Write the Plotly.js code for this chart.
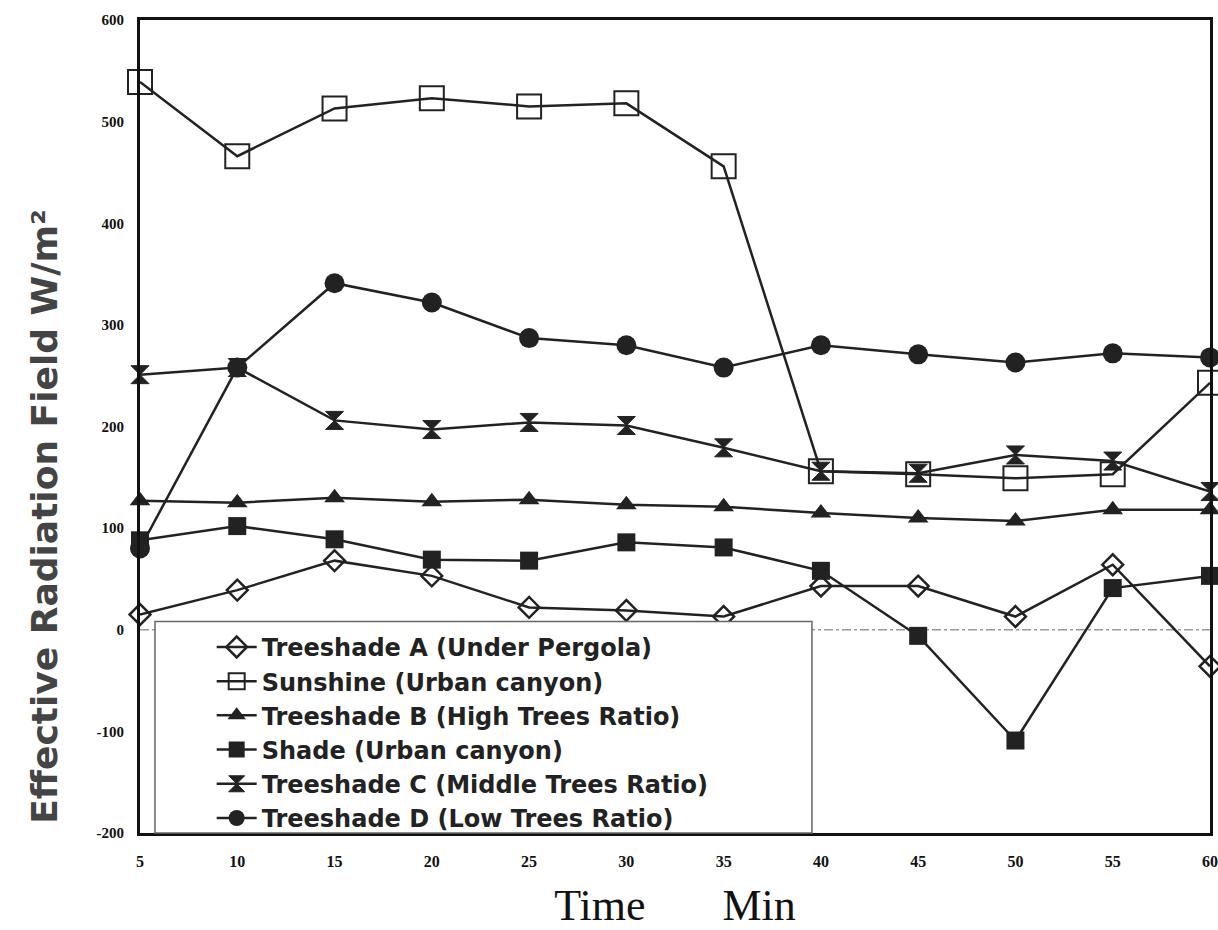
<!DOCTYPE html>
<html>
<head>
<meta charset="utf-8">
<script src="https://cdn.plot.ly/plotly-3.0.1.min.js"></script>
<style>html,body{margin:0;padding:0;background:#fff;}#chart{width:1218px;height:930px;}</style>
</head>
<body>
<div id="chart"></div>
<script>
const minutes = [5, 10, 15, 20, 25, 30, 35, 40, 45, 50, 55, 60];
const treeshadeA = [15, 39, 68, 53, 22, 19, 13, 43, 43, 13, 64, -36];
const sunshine = [539, 466, 513, 523, 515, 518, 456, 156, 153, 149, 153, 243];
const treeshadeB = [127, 125, 130, 126, 128, 123, 121, 115, 110, 107, 118, 118];
const shade = [88, 102, 89, 69, 68, 86, 81, 58, -6, -109, 41, 53];
const treeshadeC = [251, 258, 206, 197, 204, 201, 179, 156, 154, 172, 166, 136];
const treeshadeD = [80, 258, 341, 322, 287, 280, 258, 280, 271, 263, 272, 268];
const seriesNames = [
  "Treeshade A (Under Pergola)",
  "Sunshine (Urban canyon)",
  "Treeshade B (High Trees Ratio)",
  "Shade (Urban canyon)",
  "Treeshade C (Middle Trees Ratio)",
  "Treeshade D (Low Trees Ratio)"
];
const yTicks = [-200, -100, 0, 100, 200, 300, 400, 500, 600];
const xTicks = minutes;

const lineStyle = {color: '#222', width: 2.5};
function mk(y, name, marker) {
  return {x: minutes, y: y, name: name, type: 'scatter', mode: 'lines+markers',
          line: lineStyle, marker: marker, cliponaxis: false};
}
const traces = [
  mk(treeshadeA, seriesNames[0], {symbol: 'diamond-open', size: 16, color: '#222', line: {width: 2.5, color: '#222'}}),
  mk(sunshine, seriesNames[1], {symbol: 'square-open', size: 24, color: '#222', line: {width: 2, color: '#222'}}),
  mk(treeshadeB, seriesNames[2], {symbol: 'triangle-up', size: 18, color: '#222'}),
  mk(shade, seriesNames[3], {symbol: 'square', size: 18, color: '#222'}),
  mk(treeshadeC, seriesNames[4], {symbol: 'hourglass', size: 18, color: '#222', line: {width: 1, color: '#222'}}),
  mk(treeshadeD, seriesNames[5], {symbol: 'circle', size: 20, color: '#222'})
];

const layout = {
  width: 1218, height: 930,
  margin: {l: 140, r: 8, t: 20, b: 97},
  paper_bgcolor: '#fff', plot_bgcolor: '#fff',
  showlegend: true,
  legend: {
    x: 0.067, y: 0.256, xanchor: 'left', yanchor: 'top',
    bgcolor: 'rgba(255,255,255,0)', borderwidth: 0,
    font: {family: 'DejaVu Sans', size: 24, color: '#222', weight: 'bold'},
    itemwidth: 40, tracegroupgap: 0,
    traceorder: 'normal'
  },
  xaxis: {
    range: [5, 60], tickvals: xTicks, ticktext: xTicks.map(String),
    showgrid: false, zeroline: false, showline: true, mirror: true,
    linecolor: '#111', linewidth: 3, ticks: '', ticklabelstandoff: 12,
    tickfont: {family: 'Liberation Serif', size: 16, color: '#111', weight: 'bold'},
    title: {text: 'Time\u00A0\u00A0\u00A0\u00A0\u00A0\u00A0\u00A0Min', font: {family: 'Liberation Serif', size: 44, color: '#111'}, standoff: 28}
  },
  yaxis: {
    range: [-200, 600], tickvals: yTicks, ticktext: yTicks.map(String),
    showgrid: false, zeroline: false, showline: true, mirror: true,
    linecolor: '#111', linewidth: 3, ticks: '', ticklabelstandoff: 10,
    tickfont: {family: 'Liberation Serif', size: 15, color: '#111', weight: 'bold'}
  },
  annotations: [{
    text: 'Effective Radiation Field W/m\u00B2', xref: 'paper', yref: 'paper',
    x: -0.0888, y: 0.389, xanchor: 'center', yanchor: 'middle', textangle: -90,
    showarrow: false, font: {family: 'DejaVu Sans', size: 36, color: '#444', weight: 'bold'}
  }],
  shapes: [
    {type: 'line', xref: 'x', yref: 'y', x0: 5, x1: 60, y0: 0, y1: 0,
     line: {color: '#999', width: 1.5, dash: 'dashdot'}, layer: 'below'},
    {type: 'rect', xref: 'paper', yref: 'paper', x0: 0.014, x1: 0.628, y0: 0, y1: 0.26,
     fillcolor: '#fff', line: {color: '#666', width: 1.5}, layer: 'above'}
  ]
};
Plotly.newPlot('chart', traces, layout, {displayModeBar: false, staticPlot: true});
</script>
</body>
</html>
